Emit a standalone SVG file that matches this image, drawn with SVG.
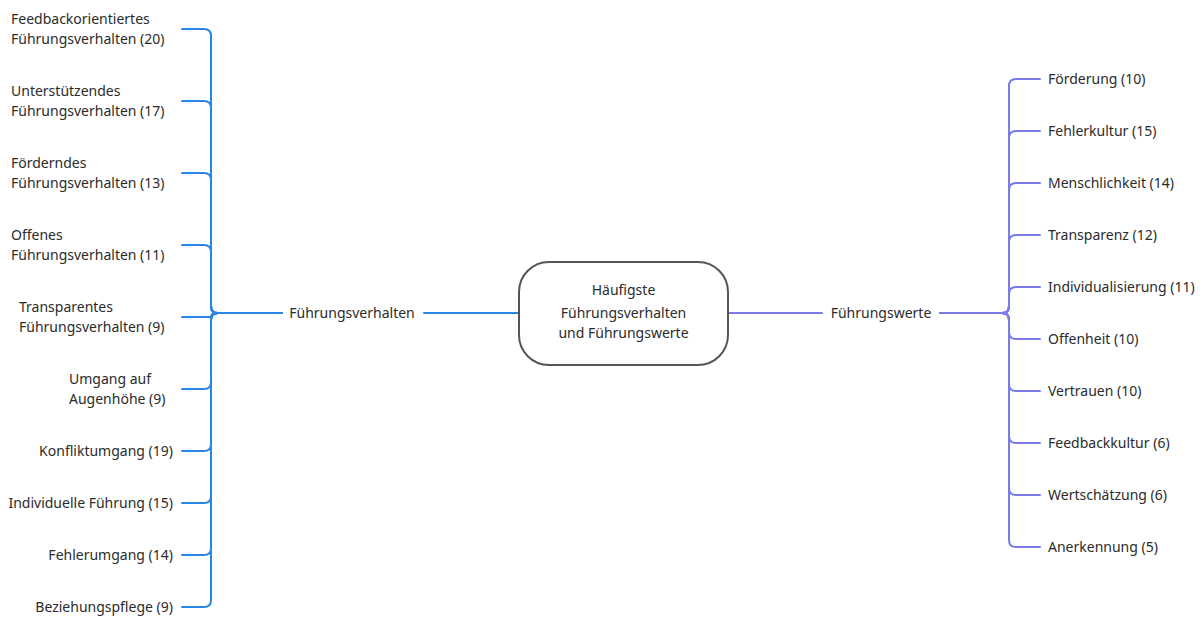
<svg xmlns="http://www.w3.org/2000/svg" width="1203" height="617" viewBox="0 0 1203 617">
  <style>
    text { font-family: "Noto Sans", "Open Sans", "Liberation Sans", sans-serif; font-size: 14px; fill: #2b2b2b; }
    .mid { text-anchor: middle; }
    .end { text-anchor: end; }
    .blue { fill: none; stroke: #2a86e6; stroke-width: 2; stroke-linecap: round; stroke-linejoin: round; }
    .violet { fill: none; stroke: #7a7ae8; stroke-width: 2; stroke-linecap: round; stroke-linejoin: round; }
    .root { fill: #ffffff; stroke: #555555; stroke-width: 2; }
  </style>
  <rect width="1203" height="617" fill="#ffffff"/>

  <!-- connectors -->
  <g id="connectors">
    <!-- root to branch hubs -->
    <path class="blue" d="M519,313 H424"/>
    <path class="violet" d="M728,313 H822"/>

    <!-- Führungsverhalten children -->
    <path class="blue" d="M282,313 H218 Q211,313 211,306 V36 Q211,29 204,29 H182"/>
    <path class="blue" d="M282,313 H218 Q211,313 211,306 V108 Q211,101 204,101 H182"/>
    <path class="blue" d="M282,313 H218 Q211,313 211,306 V180 Q211,173 204,173 H182"/>
    <path class="blue" d="M282,313 H218 Q211,313 211,306 V252 Q211,245 204,245 H182"/>
    <path class="blue" d="M282,313 H217 Q211,313 211,317 H182"/>
    <path class="blue" d="M282,313 H218 Q211,313 211,320 V382 Q211,389 204,389 H182"/>
    <path class="blue" d="M282,313 H218 Q211,313 211,320 V444 Q211,451 204,451 H182"/>
    <path class="blue" d="M282,313 H218 Q211,313 211,320 V496 Q211,503 204,503 H182"/>
    <path class="blue" d="M282,313 H218 Q211,313 211,320 V548 Q211,555 204,555 H182"/>
    <path class="blue" d="M282,313 H218 Q211,313 211,320 V600 Q211,607 204,607 H182"/>

    <!-- Führungswerte children -->
    <path class="violet" d="M940,313 H1002 Q1009,313 1009,306 V86 Q1009,79 1016,79 H1040"/>
    <path class="violet" d="M940,313 H1002 Q1009,313 1009,306 V138 Q1009,131 1016,131 H1040"/>
    <path class="violet" d="M940,313 H1002 Q1009,313 1009,306 V190 Q1009,183 1016,183 H1040"/>
    <path class="violet" d="M940,313 H1002 Q1009,313 1009,306 V242 Q1009,235 1016,235 H1040"/>
    <path class="violet" d="M940,313 H1002 Q1009,313 1009,306 V294 Q1009,287 1016,287 H1040"/>
    <path class="violet" d="M940,313 H1002 Q1009,313 1009,320 V332 Q1009,339 1016,339 H1040"/>
    <path class="violet" d="M940,313 H1002 Q1009,313 1009,320 V384 Q1009,391 1016,391 H1040"/>
    <path class="violet" d="M940,313 H1002 Q1009,313 1009,320 V436 Q1009,443 1016,443 H1040"/>
    <path class="violet" d="M940,313 H1002 Q1009,313 1009,320 V488 Q1009,495 1016,495 H1040"/>
    <path class="violet" d="M940,313 H1002 Q1009,313 1009,320 V540 Q1009,547 1016,547 H1040"/>
  </g>

  <!-- central topic -->
  <g id="root">
    <rect class="root" x="519" y="262" width="209" height="103" rx="30" ry="30"/>
    <text class="mid" x="623.5" y="295">Häufigste</text>
    <text class="mid" x="623.5" y="318">Führungsverhalten</text>
    <text class="mid" x="623.5" y="338">und Führungswerte</text>
  </g>

  <!-- main branches -->
  <g id="fuehrungsverhalten">
    <text class="mid" x="352" y="318">Führungsverhalten</text>
  </g>
  <g id="fuehrungswerte">
    <text class="mid" x="881" y="318">Führungswerte</text>
  </g>

  <!-- Führungsverhalten topics -->
  <g id="v-feedback"><text x="11" y="24">Feedbackorientiertes</text><text x="11" y="44">Führungsverhalten (20)</text></g>
  <g id="v-unterstuetzend"><text x="11" y="96">Unterstützendes</text><text x="11" y="116">Führungsverhalten (17)</text></g>
  <g id="v-foerdernd"><text x="11" y="168">Förderndes</text><text x="11" y="188">Führungsverhalten (13)</text></g>
  <g id="v-offen"><text x="11" y="240">Offenes</text><text x="11" y="260">Führungsverhalten (11)</text></g>
  <g id="v-transparent"><text x="19" y="312">Transparentes</text><text x="19" y="332">Führungsverhalten (9)</text></g>
  <g id="v-augenhoehe"><text x="69" y="384">Umgang auf</text><text x="69" y="404">Augenhöhe (9)</text></g>
  <g id="v-konflikt"><text class="end" x="173" y="456">Konfliktumgang (19)</text></g>
  <g id="v-individuell"><text class="end" x="173" y="508">Individuelle Führung (15)</text></g>
  <g id="v-fehler"><text class="end" x="173" y="560">Fehlerumgang (14)</text></g>
  <g id="v-beziehung"><text class="end" x="173" y="612">Beziehungspflege (9)</text></g>

  <!-- Führungswerte topics -->
  <g id="w-foerderung"><text x="1048" y="84">Förderung (10)</text></g>
  <g id="w-fehlerkultur"><text x="1048" y="136">Fehlerkultur (15)</text></g>
  <g id="w-menschlichkeit"><text x="1048" y="188">Menschlichkeit (14)</text></g>
  <g id="w-transparenz"><text x="1048" y="240">Transparenz (12)</text></g>
  <g id="w-individualisierung"><text x="1048" y="292">Individualisierung (11)</text></g>
  <g id="w-offenheit"><text x="1048" y="344">Offenheit (10)</text></g>
  <g id="w-vertrauen"><text x="1048" y="396">Vertrauen (10)</text></g>
  <g id="w-feedbackkultur"><text x="1048" y="448">Feedbackkultur (6)</text></g>
  <g id="w-wertschaetzung"><text x="1048" y="500">Wertschätzung (6)</text></g>
  <g id="w-anerkennung"><text x="1048" y="552">Anerkennung (5)</text></g>
</svg>
